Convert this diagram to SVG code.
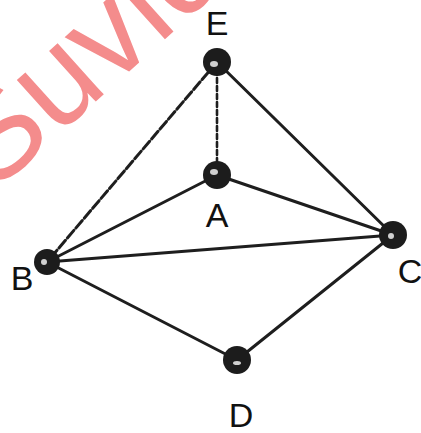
<svg xmlns="http://www.w3.org/2000/svg" width="421" height="433" viewBox="0 0 421 433">
<style>
.edge{stroke:#1e1e1e;stroke-width:3;stroke-linecap:round;fill:none}
.dash{stroke-dasharray:5 3;stroke-width:2.6}
.rough{stroke-dasharray:10 3}
.node{fill:#1c1c1c}
.hl{fill:#d0d0d0}
.lbl{font-family:"Liberation Sans",Arial,sans-serif;font-size:34px;fill:#111;text-anchor:middle}
.wm{font-family:"Liberation Sans",Arial,sans-serif;font-size:130px;fill:#f48c8c}
</style>
<rect width="421" height="433" fill="#ffffff"/>
<text class="wm" transform="translate(134,67) rotate(-42)" x="-191">Suvid</text>
<g id="edges">
<line class="edge rough" x1="217" y1="62" x2="47" y2="262"/>
<line class="edge dash" x1="217" y1="62" x2="217" y2="175"/>
<line class="edge" x1="217" y1="62" x2="393" y2="235"/>
<line class="edge" x1="217" y1="175" x2="47" y2="262"/>
<line class="edge" x1="217" y1="175" x2="393" y2="235"/>
<line class="edge" x1="47" y1="262" x2="393" y2="235"/>
<line class="edge" x1="47" y1="262" x2="237" y2="360"/>
<line class="edge" x1="237" y1="360" x2="393" y2="235"/>
</g>
<g id="E"><circle class="node" cx="217" cy="62" r="14"/><ellipse class="hl" cx="214" cy="64" rx="4" ry="3"/><text class="lbl" x="217" y="35">E</text></g>
<g id="A"><circle class="node" cx="217" cy="175" r="14"/><ellipse class="hl" cx="214" cy="172" rx="4" ry="3"/><text class="lbl" x="217" y="227">A</text></g>
<g id="B"><circle class="node" cx="47" cy="262" r="13"/><ellipse class="hl" cx="44" cy="262" rx="3" ry="3"/><text class="lbl" x="22" y="290">B</text></g>
<g id="C"><circle class="node" cx="393" cy="235" r="14"/><ellipse class="hl" cx="391" cy="236" rx="3" ry="3"/><text class="lbl" x="410" y="283">C</text></g>
<g id="D"><circle class="node" cx="237" cy="360" r="14"/><ellipse class="hl" cx="237" cy="363" rx="4" ry="2"/><text class="lbl" x="241" y="427">D</text></g>
</svg>
